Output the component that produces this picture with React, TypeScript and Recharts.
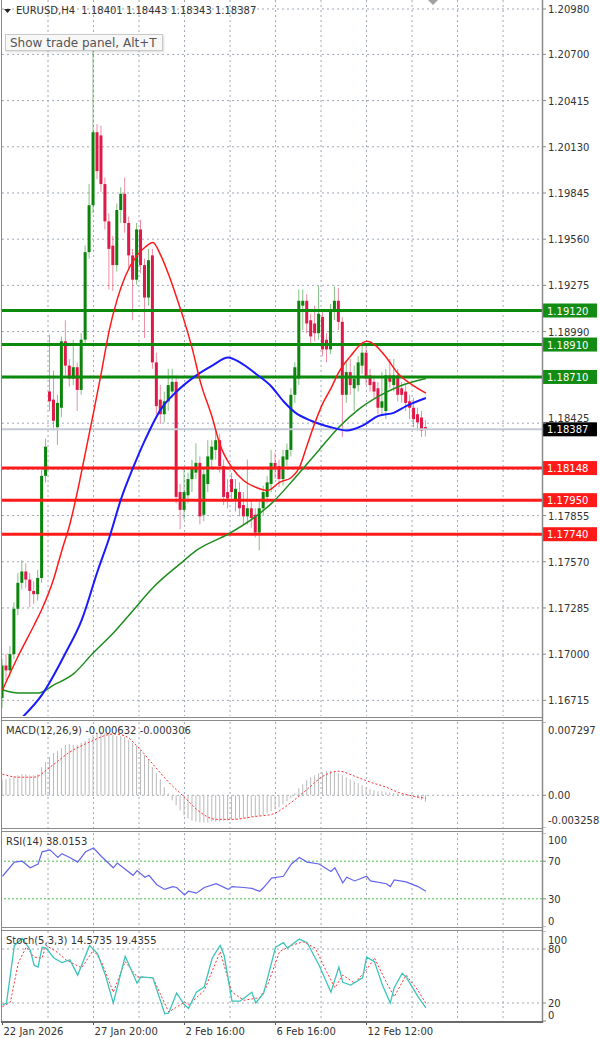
import React from "react";
import { ComposedChart, Bar, Line, XAxis, YAxis, CartesianGrid, ReferenceLine } from "recharts";

// EURUSD H4 — candles + 3 MAs, MACD, RSI, Stochastic (MT4 look)
const FONT = "'DejaVu Sans', sans-serif";
const X_DOMAIN: [number, number] = [-0.13, 136.34];
const GRID_X = [11.5, 23, 34.5, 46, 57.5, 69, 80.5, 92, 103.5, 115, 126.5];

const OPEN = [1.1673,1.1693,1.1690,1.1700,1.1728,1.1744,1.1751,1.1746,1.1739,1.1737,
  1.1747,1.1810,1.1862,1.1857,1.1840,1.1852,1.1893,1.1878,1.1870,1.1877,
  1.1863,1.1894,1.1948,1.1977,1.2022,1.2020,1.1990,1.1967,1.1952,1.1940,
  1.1974,1.1984,1.1966,1.1946,1.1931,1.1962,1.1940,1.1920,1.1946,1.1880,
  1.1857,1.1848,1.1856,1.1862,1.1868,1.1800,1.1789,1.1798,1.1808,1.1812,
  1.1818,1.1786,1.1805,1.1820,1.1826,1.1832,1.1816,1.1800,1.1808,1.1795,
  1.1800,1.1792,1.1785,1.1790,1.1786,1.1775,1.1790,1.1797,1.1805,1.1818,
  1.1816,1.1808,1.1820,1.1826,1.1860,1.1870,1.1915,1.1918,1.1906,1.1904,
  1.1898,1.1908,1.1894,1.1888,1.1912,1.1918,1.1905,1.1860,1.1874,1.1864,
  1.1866,1.1878,1.1886,1.1872,1.1868,1.1864,1.1852,1.1850,1.1872,1.1866,
  1.1872,1.1864,1.1862,1.1856,1.1852,1.1848,1.1846,1.18401];
const HIGH = [1.1697,1.1700,1.1705,1.1732,1.1750,1.1758,1.1756,1.1750,1.1745,1.1752,
  1.1814,1.1833,1.1897,1.1875,1.1860,1.1896,1.1906,1.1882,1.1894,1.1880,
  1.1898,1.1952,1.1990,1.2072,1.2027,1.2026,1.1994,1.1972,1.1958,1.1978,
  1.1988,1.1994,1.1970,1.1950,1.1966,1.1968,1.1944,1.1950,1.1950,1.1886,
  1.1866,1.1862,1.1876,1.1876,1.1872,1.1805,1.1815,1.1812,1.1820,1.1830,
  1.1822,1.1815,1.1832,1.1832,1.1838,1.1836,1.1820,1.1808,1.1812,1.1808,
  1.1806,1.1800,1.1820,1.1795,1.1790,1.1794,1.1804,1.1810,1.1826,1.1824,
  1.1820,1.1826,1.1830,1.1864,1.1880,1.1925,1.1925,1.1922,1.1910,1.1915,
  1.1927,1.1912,1.1898,1.1916,1.1927,1.1926,1.1908,1.1880,1.1882,1.1878,
  1.1884,1.1890,1.1890,1.1876,1.1872,1.1868,1.1874,1.1876,1.1882,1.1882,
  1.1876,1.1868,1.1866,1.1860,1.1858,1.1852,1.1850,1.18443];
const LOW = [1.1667,1.1684,1.1686,1.1697,1.1724,1.1740,1.1741,1.1729,1.1731,1.1733,
  1.1744,1.1806,1.1850,1.1838,1.1829,1.1846,1.1872,1.1865,1.1866,1.1850,
  1.1860,1.1890,1.1944,1.1972,1.1993,1.1985,1.1962,1.1925,1.1924,1.1936,
  1.1966,1.1960,1.1938,1.1906,1.1928,1.1935,1.1895,1.1915,1.1876,1.1848,
  1.1842,1.1843,1.1850,1.1858,1.1793,1.1777,1.1783,1.1793,1.1800,1.1808,
  1.1780,1.1782,1.1800,1.1815,1.1820,1.1812,1.1792,1.1790,1.1794,1.1788,
  1.1785,1.1780,1.1780,1.1778,1.1772,1.1764,1.1786,1.1793,1.1800,1.1808,
  1.1803,1.1804,1.1816,1.1822,1.1855,1.1866,1.1900,1.1898,1.1890,1.1893,
  1.1894,1.1884,1.1880,1.1885,1.1906,1.1900,1.1834,1.1855,1.1860,1.1850,
  1.1862,1.1873,1.1866,1.1862,1.1858,1.1848,1.1848,1.1845,1.1864,1.1862,
  1.1856,1.1855,1.1850,1.1845,1.1840,1.1838,1.1834,1.18343];
const CLOSE = [1.1693,1.1690,1.1700,1.1728,1.1744,1.1751,1.1746,1.1739,1.1737,1.1747,
  1.1810,1.1828,1.1856,1.1844,1.1855,1.1893,1.1878,1.1870,1.1877,1.1863,
  1.1894,1.1948,1.1977,1.2022,1.1998,1.1990,1.1967,1.1950,1.1940,1.1974,
  1.1984,1.1966,1.1946,1.1931,1.1962,1.1940,1.1920,1.1943,1.1880,1.1853,
  1.1848,1.1856,1.1866,1.1868,1.1797,1.1789,1.1800,1.1808,1.1815,1.1818,
  1.1785,1.1811,1.1822,1.1828,1.1832,1.1816,1.1797,1.1796,1.1800,1.1802,
  1.1790,1.1785,1.1790,1.1784,1.1775,1.1790,1.1800,1.1806,1.1818,1.1814,
  1.1808,1.1822,1.1826,1.1860,1.1877,1.1918,1.1918,1.1904,1.1896,1.1898,
  1.1910,1.1888,1.1888,1.1912,1.1918,1.1905,1.1860,1.1874,1.1866,1.1870,
  1.1880,1.1886,1.1870,1.1866,1.1862,1.1852,1.1856,1.1872,1.1868,1.1872,
  1.1860,1.1860,1.1855,1.1852,1.1845,1.1843,1.1838,1.18387];

// moving averages read at sample bars: [bar, price]
const MA_RED: [number, number][] = [[0,1.1678],[4,1.1699],[8,1.1718],[10,1.1728],[13,1.1747],[15,1.1764],
  [17,1.1780],[19,1.1801],[21,1.1825],[23,1.1849],[25,1.1874],[27,1.1900],[29,1.1919],[31,1.1933],
  [34,1.1946],[36,1.1951],[38,1.1954],[40,1.1946],[42,1.1934],[44,1.1920],[46,1.1905],[48,1.1888],
  [50,1.1868],[53,1.1846],[55,1.1829],[58,1.1815],[61,1.1807],[64,1.1803],[67,1.1801],[70,1.1806],
  [73,1.1809],[75,1.1815],[77,1.1829],[79,1.1843],[81,1.1855],[83,1.1864],[85,1.1874],[88,1.1884],
  [91,1.1892],[92,1.1893],[94,1.1891],[97,1.1883],[100,1.1873],[103,1.1867],[107,1.1861]];
const MA_BLUE: [number, number][] = [[5,1.1661],[10,1.1675],[16,1.1701],[20,1.1721],[24,1.1751],[27,1.1772],
  [30,1.1796],[33,1.1815],[36,1.1832],[40,1.1851],[44,1.1862],[49,1.1872],[53,1.1878],[57,1.1883],
  [60,1.1880],[64,1.1873],[68,1.1865],[71,1.1856],[74,1.1849],[78,1.1844],[83,1.1840],[87,1.1838],
  [91,1.1841],[95,1.1847],[99,1.1849],[102,1.1853],[107,1.1858]];
const MA_GREEN: [number, number][] = [[0,1.1678],[4,1.1676],[9,1.1676],[13,1.1681],[18,1.1688],[23,1.1701],
  [28,1.1713],[33,1.1727],[38,1.1741],[45,1.1756],[49,1.1764],[57,1.1774],[64,1.1785],[68,1.1793],
  [74,1.1809],[80,1.1826],[85,1.1840],[90,1.1851],[95,1.1859],[100,1.1865],[107,1.1870]];

const MACD_HIST = [0.0015,0.0016,0.0017,0.0019,0.0020,0.0021,0.0021,0.0020,0.0020,0.0021,
  0.0028,0.0033,0.0038,0.0042,0.0044,0.0047,0.0050,0.0051,0.0050,0.0050,
  0.0052,0.0054,0.0057,0.0060,0.0062,0.0063,0.0062,0.0061,0.0060,0.0059,
  0.0059,0.0058,0.0055,0.0052,0.0049,0.0045,0.0040,0.0036,0.0028,0.0022,
  0.0016,0.0008,0.0002,-0.0005,-0.0010,-0.0015,-0.0020,-0.0023,-0.0025,-0.0026,
  -0.0027,-0.0027,-0.0027,-0.0026,-0.0026,-0.0026,-0.0025,-0.0025,-0.0024,-0.0024,
  -0.0023,-0.0023,-0.0023,-0.0022,-0.0022,-0.0021,-0.0020,-0.0018,-0.0016,-0.0014,
  -0.0012,-0.0009,-0.0006,-0.0003,0.0002,0.0007,0.0011,0.0015,0.0018,0.0020,
  0.0022,0.0023,0.0024,0.0024,0.0023,0.0022,0.0020,0.0018,0.0016,0.0014,
  0.0012,0.0010,0.0008,0.0006,0.0005,0.0004,0.0004,0.0003,0.0003,0.0002,
  0.0002,0.0001,0.0001,0.0000,-0.0002,-0.0003,-0.0005,-0.000632];
const MACD_SIGNAL: [number, number][] = [[0,0.0021],[4,0.0018],[8,0.0018],[12,0.0028],[17,0.0043],[22,0.0053],
  [28,0.0061],[31,0.0059],[34,0.0049],[38,0.0031],[42,0.0013],[46,-0.0002],[50,-0.0017],[54,-0.0024],
  [58,-0.0024],[64,-0.0021],[68,-0.0019],[73,-0.0007],[77,0.0006],[81,0.0019],[85,0.0024],[89,0.0019],
  [93,0.0013],[97,0.0008],[100,0.0003],[104,-0.0001],[107,-0.000306]];

const RSI: [number, number][] = [[0,54],[3,69],[5,70],[7,63],[9,67],[10,80],[12,82],[14,74],[15,78],[17,74],
  [19,69],[21,80],[23,84],[25,75],[28,63],[29,68],[33,55],[34,60],[36,53],[37,55],[39,45],[41,40],
  [43,43],[44,42],[46,34],[47,38],[49,36],[51,42],[54,46],[57,40],[58,43],[61,42],[63,41],[65,38],
  [66,42],[68,52],[71,54],[73,67],[75,74],[77,69],[80,67],[83,59],[84,63],[86,47],[87,53],[89,49],
  [92,54],[93,49],[97,46],[98,43],[99,50],[102,48],[105,43],[107,38.0153]];

const STOCH_K: [number, number][] = [[0,18],[1,20],[3,84],[5,92],[7,79],[8,62],[9,60],[10,82],[11,81],[13,70],
  [15,65],[17,68],[19,51],[22,84],[24,75],[26,51],[28,20],[31,72],[34,42],[35,49],[38,48],[41,8],[42,9],
  [44,31],[46,18],[47,14],[49,32],[51,38],[53,70],[55,84],[56,73],[58,22],[60,22],[63,32],[64,20],
  [66,31],[69,82],[71,87],[72,81],[75,91],[77,87],[80,62],[83,32],[85,60],[86,43],[88,40],[91,48],
  [92,71],[94,66],[96,40],[98,20],[99,37],[101,53],[102,49],[105,27],[107,14.5735]];
const STOCH_D: [number, number][] = [[0,16],[2,21],[4,65],[6,82],[8,71],[10,70],[11,84],[14,76],[16,68],[20,59],
  [23,79],[25,66],[28,32],[31,66],[34,49],[38,48],[42,10],[46,21],[47,18],[51,34],[55,77],[58,32],
  [61,23],[65,26],[67,40],[70,77],[73,84],[76,88],[79,81],[82,54],[84,37],[86,51],[89,42],[92,57],
  [94,70],[97,43],[99,27],[102,51],[105,34],[107,19.4355]];

const PRICE_TICKS = [1.2098, 1.207, 1.20415, 1.2013, 1.19845, 1.1956, 1.19275, 1.1899, 1.18425,
  1.17855, 1.1757, 1.17285, 1.17, 1.16715];
const PRICE_GRID = [...PRICE_TICKS, 1.18705, 1.1814];
const GREEN_LEVELS = [1.1912, 1.1891, 1.1871];
const RED_LEVELS = [1.18148, 1.1795, 1.1774];
const LAST_PRICE = 1.18387;

const DATE_TICKS = [0, 23, 46, 69, 92];
const DATE_LABELS = ["22 Jan 2026", "27 Jan 20:00", "2 Feb 16:00", "6 Feb 16:00", "12 Feb 12:00"];

const C_UP = "#0c840c";
const C_DN = "#e01a48";

const rows: any[] = OPEN.map((o, i) => ({
  i, o, h: HIGH[i], l: LOW[i], c: CLOSE[i], range: [LOW[i], HIGH[i]], hist: MACD_HIST[i],
}));
const put = (key: string, pts: [number, number][]) => pts.forEach(([i, v]) => { rows[i][key] = v; });
put("maRed", MA_RED);
put("maBlue", MA_BLUE);
put("maGreen", MA_GREEN);
put("signal", MACD_SIGNAL);
put("rsi", RSI);
put("k", STOCH_K);
put("d", STOCH_D);

const Candle = (props: any) => {
  const { x, y, width, height, payload } = props;
  if (x == null || y == null) return null;
  const top0 = Math.min(y, y + height);
  const h0 = Math.abs(height);
  const { o, h, l, c } = payload;
  const span = h - l || 1e-9;
  const yOf = (v: number) => top0 + ((h - v) / span) * h0;
  const up = c >= o;
  const col = up ? C_UP : C_DN;
  const cx = x + width / 2;
  const bt = yOf(Math.max(o, c));
  const bb = yOf(Math.min(o, c));
  return (
    <g>
      <line x1={cx} x2={cx} y1={top0} y2={top0 + h0} stroke={col} strokeOpacity={0.5} strokeWidth={1} />
      <rect x={cx - 1.5} y={bt} width={3} height={Math.max(1, bb - bt)} fill={col} />
    </g>
  );
};

const Tag = ({ viewBox, bg, text }: any) => {
  if (!viewBox) return null;
  const x = viewBox.x + viewBox.width + 1;
  const y = viewBox.y;
  return (
    <g>
      <rect x={x} y={y - 7} width={54} height={14} fill={bg} />
      <text x={x + 4} y={y + 4} fill="#fff" fontSize={10} fontFamily={FONT}>{text}</text>
    </g>
  );
};

const mkTick = (fmt: (v: number) => string, shift: (v: number) => number) => (p: any) => (
  <text x={p.x} y={p.y + shift(p.payload.value)} fontSize={10} fill="#333" fontFamily={FONT}>
    {fmt(p.payload.value)}
  </text>
);

const gridProps = { stroke: "#9ea7b5", strokeDasharray: "2 3" };
const xAxisHidden = <XAxis type="number" dataKey="i" domain={X_DOMAIN} allowDataOverflow hide />;
const MARGIN = { top: 0, right: 0, bottom: 0, left: 2 };

function MainPanel() {
  return (
    <ComposedChart width={600} height={716} data={rows} margin={MARGIN}>
      <CartesianGrid {...gridProps} horizontalValues={PRICE_GRID} verticalValues={GRID_X} />
      {xAxisHidden}
      <YAxis orientation="right" width={58} domain={[1.166185, 1.210355]} allowDataOverflow
        ticks={PRICE_TICKS} interval={0} axisLine={false} tickSize={4} tickLine={{ stroke: "#888" }}
        tick={mkTick((v) => v.toFixed(5), (v) => (v === 1.18425 ? -1 : 4))} />
      <ReferenceLine y={LAST_PRICE} stroke="#c3c9d2" strokeWidth={2}
        label={<Tag bg="#000" text={LAST_PRICE.toFixed(5)} />} />
      {GREEN_LEVELS.map((v) => (
        <ReferenceLine key={v} y={v} stroke="#0c8a0c" strokeWidth={3}
          label={<Tag bg="#138c13" text={v.toFixed(5)} />} />
      ))}
      {RED_LEVELS.map((v) => (
        <ReferenceLine key={v} y={v} stroke="#ff1a1a" strokeWidth={3}
          label={<Tag bg="#ff1a1a" text={v.toFixed(5)} />} />
      ))}
      <Bar dataKey="range" barSize={3} shape={Candle} isAnimationActive={false} />
      <Line type="monotone" dataKey="maGreen" stroke="#1e8c1e" strokeWidth={1.5} dot={false} connectNulls isAnimationActive={false} />
      <Line type="monotone" dataKey="maBlue" stroke="#1a1aff" strokeWidth={2} dot={false} connectNulls isAnimationActive={false} />
      <Line type="monotone" dataKey="maRed" stroke="#ff1a1a" strokeWidth={1.5} dot={false} connectNulls isAnimationActive={false} />
    </ComposedChart>
  );
}

const MACD_TICKS = [0.007297, 0, -0.003258];
const MACD_LABELS = ["0.007297", "0.00", "-0.003258"];

function MacdPanel() {
  return (
    <ComposedChart width={600} height={106} data={rows} margin={MARGIN}>
      <CartesianGrid {...gridProps} horizontalValues={[0]} verticalValues={GRID_X} />
      {xAxisHidden}
      <YAxis orientation="right" width={58} domain={[-0.003258, 0.007297]} allowDataOverflow
        ticks={MACD_TICKS} interval={0} axisLine={false} tickSize={4} tickLine={{ stroke: "#888" }}
        tick={mkTick((v) => MACD_LABELS[MACD_TICKS.indexOf(v)], (v) => (v > 0.007 ? 12 : v < -0.003 ? -4 : 4))} />
      <Bar dataKey="hist" barSize={1} fill="#b9b9b9" isAnimationActive={false} />
      <Line type="monotone" dataKey="signal" stroke="#ff3030" strokeWidth={1} strokeDasharray="2 2" dot={false} connectNulls isAnimationActive={false} />
    </ComposedChart>
  );
}

function RsiPanel() {
  return (
    <ComposedChart width={600} height={94} data={rows} margin={MARGIN}>
      <CartesianGrid {...gridProps} horizontal={false} verticalValues={GRID_X} />
      {xAxisHidden}
      <YAxis orientation="right" width={58} domain={[0, 100]} allowDataOverflow
        ticks={[100, 70, 30, 0]} interval={0} axisLine={false} tickSize={4} tickLine={{ stroke: "#888" }}
        tick={mkTick((v) => String(v), (v) => (v === 100 ? 11 : v === 0 ? -2 : 4))} />
      <ReferenceLine y={70} stroke="#4cbf4c" strokeDasharray="2 2" />
      <ReferenceLine y={30} stroke="#4cbf4c" strokeDasharray="2 2" />
      <Line type="linear" dataKey="rsi" stroke="#6464f2" strokeWidth={1.2} dot={false} connectNulls isAnimationActive={false} />
    </ComposedChart>
  );
}

function StochPanel() {
  return (
    <ComposedChart width={600} height={106} data={rows} margin={MARGIN}>
      <CartesianGrid {...gridProps} horizontalValues={[80, 20]} verticalValues={GRID_X} />
      <XAxis type="number" dataKey="i" domain={X_DOMAIN} allowDataOverflow ticks={DATE_TICKS} interval={0}
        height={16} axisLine={false} tickLine={false} tickSize={0} tickMargin={0}
        tick={(p: any) => (
          <g>
            <line x1={p.x} x2={p.x} y1={p.y} y2={p.y + 4} stroke="#555" />
            <text x={p.x + 1} y={p.y + 14} fontSize={10} fill="#333" fontFamily={FONT}>
              {DATE_LABELS[DATE_TICKS.indexOf(p.payload.value)]}
            </text>
          </g>
        )} />
      <YAxis orientation="right" width={58} domain={[0, 100]} allowDataOverflow
        ticks={[100, 80, 20, 0]} interval={0} axisLine={false} tickSize={4} tickLine={{ stroke: "#888" }}
        tick={mkTick((v) => String(v), (v) => (v === 100 ? 13 : v === 0 ? -2 : 4))} />
      <Line type="linear" dataKey="d" stroke="#ff3030" strokeWidth={1} strokeDasharray="2 2" dot={false} connectNulls isAnimationActive={false} />
      <Line type="linear" dataKey="k" stroke="#3cc4bc" strokeWidth={1.3} dot={false} connectNulls isAnimationActive={false} />
    </ComposedChart>
  );
}

const label: React.CSSProperties = {
  position: "absolute", fontSize: 10, color: "#333", fontFamily: FONT, whiteSpace: "nowrap", lineHeight: "12px",
};

export default function App() {
  return (
    <div style={{ position: "relative", width: 600, height: 1038, background: "#fff", overflow: "hidden" }}>
      <style>{"body{margin:0}"}</style>
      <div style={{ position: "absolute", left: 0, top: 0 }}><MainPanel /></div>
      <div style={{ position: "absolute", left: 0, top: 722 }}><MacdPanel /></div>
      <div style={{ position: "absolute", left: 0, top: 833 }}><RsiPanel /></div>
      <div style={{ position: "absolute", left: 0, top: 931 }}><StochPanel /></div>

      <svg width={600} height={1038} style={{ position: "absolute", left: 0, top: 0, pointerEvents: "none" }}>
        <line x1={1.5} x2={1.5} y1={0} y2={1023} stroke="#8a8a8a" />
        <line x1={542.5} x2={542.5} y1={0} y2={1023} stroke="#8a8a8a" strokeWidth={1.5} />
        {[717.5, 720.5, 828.5, 831.5, 927.5, 930.5].map((y) => (
          <line key={y} x1={1} x2={543} y1={y} y2={y} stroke="#8a8a8a" />
        ))}
        <line x1={1} x2={543} y1={1022} y2={1022} stroke="#6a6a6a" strokeWidth={2} />
        <polygon points="4,9 11,9 7.5,13" fill="#222" />
        <polygon points="428,0 438,0 433,5" fill="#a0a0a0" />
      </svg>

      <div style={{ ...label, left: 16, top: 5 }}>EURUSD,H4&nbsp; 1.18401 1.18443 1.18343 1.18387</div>
      <div style={{
        position: "absolute", left: 5, top: 34, width: 158, height: 17, border: "1px solid #c9c9c9",
        background: "#f7f7f7", boxShadow: "1px 1px 2px rgba(0,0,0,0.15)", fontSize: 12, color: "#555",
        fontFamily: FONT, lineHeight: "17px", paddingLeft: 4, boxSizing: "border-box", whiteSpace: "nowrap",
      }}>Show trade panel, Alt+T</div>
      <div style={{ ...label, left: 6, top: 725 }}>MACD(12,26,9) -0.000632 -0.000306</div>
      <div style={{ ...label, left: 6, top: 836 }}>RSI(14) 38.0153</div>
      <div style={{ ...label, left: 6, top: 935 }}>Stoch(5,3,3) 14.5735 19.4355</div>
    </div>
  );
}
